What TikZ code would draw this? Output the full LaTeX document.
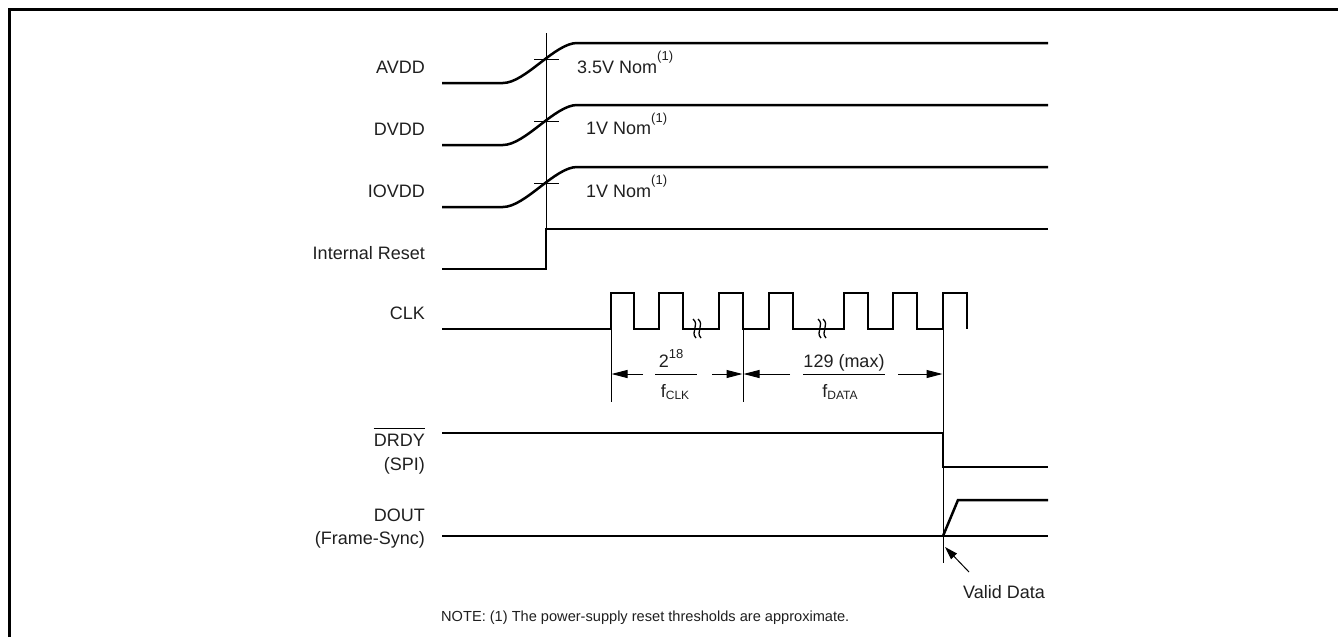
\documentclass[tikz,border=0pt]{standalone}
\usepackage{fontspec}
\setmainfont{Liberation Sans}
\usetikzlibrary{arrows.meta}
\newcommand\supnum[2]{\raisebox{#1}{\fontsize{13}{13}\selectfont #2}}
\newcommand\subtxt[1]{\raisebox{-2pt}{\fontsize{12}{12}\selectfont #1}}
\begin{document}
\begin{tikzpicture}[x=1pt,y=-1pt,
  sig/.style={line width=2.5pt, line join=miter},
  thinline/.style={line width=1pt},
  lbl/.style={font=\fontsize{18}{20}\selectfont, text=black!88, inner sep=0pt},
  notelbl/.style={font=\fontsize{14.6}{16}\selectfont, text=black!88, inner sep=0pt},
  dimarrow/.style={line width=1pt, -{Triangle[length=16pt,width=8pt]}},
  brk/.style={line width=1.3pt}]
\useasboundingbox (0,0) rectangle (1338,637);
% frame
\draw[line width=3pt] (9,637) -- (9,9) -- (1338,9);

% signal labels
\node[lbl, anchor=base east] (lavdd) at (425,73) {AVDD};
\node[lbl, anchor=base east] (ldvdd) at (425,135) {DVDD};
\node[lbl, anchor=base east] (liovdd) at (425,197) {IOVDD};
\node[lbl, anchor=base east] (lrst) at (425,259) {Internal Reset};
\node[lbl, anchor=base east] (lclk) at (425,319.5) {CLK};
\node[lbl, anchor=base east] (ldrdy) at (425,446) {DRDY};
\draw[line width=1.3pt] ([yshift=5pt]ldrdy.north west) -- ([yshift=5pt]ldrdy.north east);
\node[lbl, anchor=base east] (lspi) at (425,470) {(SPI)};
\node[lbl, anchor=base east] (ldout) at (425,521) {DOUT};
\node[lbl, anchor=base east] (lfs) at (425,544) {(Frame-Sync)};

% supply ramps
\draw[sig] (442,83) -- (503,83) .. controls (525,83) and (555,43) .. (577,43) -- (1048,43);
\draw[sig] (442,145) -- (503,145) .. controls (525,145) and (555,105) .. (577,105) -- (1048,105);
\draw[sig] (442,207) -- (503,207) .. controls (525,207) and (555,167) .. (577,167) -- (1048,167);

% reference vertical + ticks
\draw[thinline] (546,33) -- (546,229);
\draw[thinline] (534,59) -- (559,59);
\draw[thinline] (534,121) -- (559,121);
\draw[thinline] (534,183) -- (559,183);

\node[lbl, anchor=base west] (navdd) at (577,73) {3.5V Nom\supnum{12.5pt}{(1)}};
\node[lbl, anchor=base west] (ndvdd) at (586,134.5) {1V Nom\supnum{12.5pt}{(1)}};
\node[lbl, anchor=base west] (niovdd) at (586,197) {1V Nom\supnum{12.5pt}{(1)}};

% internal reset
\draw[sig] (442,269) -- (546,269) -- (546,229) -- (1048,229);

% CLK
\draw[sig] (442,329) -- (611,329) -- (611,293) -- (634,293) -- (634,329)
  -- (659,329) -- (659,293) -- (683,293) -- (683,329)
  -- (719,329) -- (719,293) -- (743,293) -- (743,329)
  -- (769,329) -- (769,293) -- (793,293) -- (793,329)
  -- (844,329) -- (844,293) -- (868,293) -- (868,329)
  -- (893,329) -- (893,293) -- (917,293) -- (917,329)
  -- (943,329) -- (943,293) -- (967,293) -- (967,329);

% break marks
\foreach \bx in {693,818}{
  \draw[brk] (\bx,319) .. controls (\bx+7,325) and (\bx-3,332) .. (\bx+3,338);
  \draw[brk] (\bx+5,319) .. controls (\bx+12,325) and (\bx+2,332) .. (\bx+8,338);
}

% dimension lines
\coordinate (d1t) at (611,329); \coordinate (d1b) at (611,402);
\coordinate (d2t) at (743,329); \coordinate (d2b) at (743,402);
\coordinate (d3t) at (943,329); \coordinate (d3b) at (943,563);
\draw[thinline] (d1t) -- (d1b);
\draw[thinline] (d2t) -- (d2b);
\draw[thinline] (d3t) -- (d3b);

\coordinate (a1s) at (643,374); \coordinate (a1e) at (611.5,374);
\coordinate (a2s) at (712,374); \coordinate (a2e) at (742.5,374);
\coordinate (a3s) at (790,374); \coordinate (a3e) at (743.5,374);
\coordinate (a4s) at (898,374); \coordinate (a4e) at (942.5,374);
\draw[dimarrow] (a1s) -- (a1e);
\draw[dimarrow] (a2s) -- (a2e);
\draw[dimarrow] (a3s) -- (a3e);
\draw[dimarrow] (a4s) -- (a4e);

\draw[thinline] (655,374) -- (697,374);
\node[lbl, anchor=base] (num1) at (671,367) {2\supnum{9pt}{18}};
\node[lbl, anchor=base] (den1) at (675,397) {f\subtxt{CLK}};
\draw[thinline] (803,374) -- (885,374);
\node[lbl, anchor=base] (num2) at (844,367) {129 (max)};
\node[lbl, anchor=base] (den2) at (840,397) {f\subtxt{DATA}};

% DRDY
\draw[sig] (442,433) -- (943,433) -- (943,467) -- (1048,467);

% DOUT
\draw[sig] (442,536) -- (1048,536);
\draw[sig] (943,536) -- (958,500) -- (1048,500);

% valid data
\node[lbl, anchor=base west] (valid) at (963,598) {Valid Data};
\coordinate (vtail) at (969,572);
\coordinate (vtip) at (945,547);
\draw[line width=1pt, -{Triangle[length=13pt,width=8pt]}] (vtail) -- (vtip);

% note
\node[notelbl, anchor=base west] (note) at (441,621) {NOTE: (1) The power-supply reset thresholds are approximate.};
\end{tikzpicture}
\end{document}
